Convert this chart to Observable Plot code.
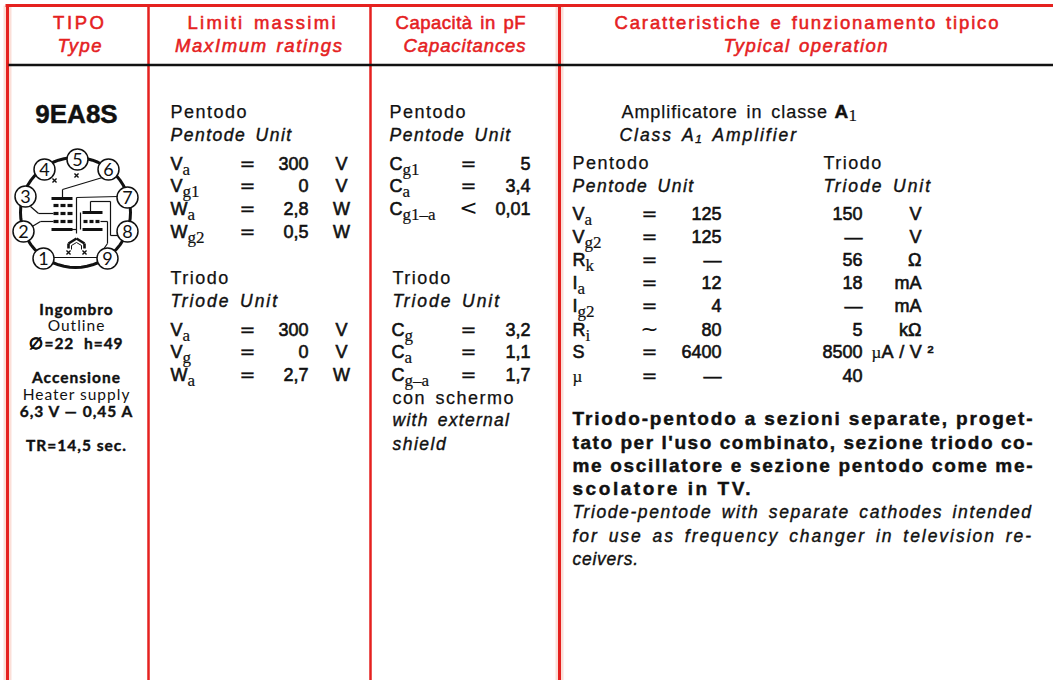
<!DOCTYPE html>
<html><head><meta charset="utf-8">
<script src="https://cdn.jsdelivr.net/npm/d3@7"></script>
<script src="https://cdn.jsdelivr.net/npm/@observablehq/plot@0.6"></script>
<style>
html,body{margin:0;padding:0;background:#fff;overflow:hidden}
svg{display:block}
.head{word-spacing:2px;stroke:#e5211f;stroke-width:.55px}
.reg{letter-spacing:1.5px;word-spacing:3px;stroke:#111;stroke-width:.25px}
.ital{letter-spacing:1.5px;word-spacing:3px;stroke:#111;stroke-width:.4px}
.val{letter-spacing:0;stroke:#111;stroke-width:.6px}
.sub{stroke:#111;stroke-width:.2px}
.symb{stroke:#111;stroke-width:.3px}
.bold{stroke:#111;stroke-width:.45px}
.gill{letter-spacing:1px}
.gillb{letter-spacing:1px;stroke:#111;stroke-width:.4px}
</style></head><body>
<script>
// ---- content ----
const headers = [["TIPO","Type"],["Limiti massimi","MaxImum ratings"],["Capacità in pF","Capacitances"],["Caratteristiche e funzionamento tipico","Typical operation"]];
const typeName = "9EA8S";
const outlineLines = ["Ingombro","Outline","∅=22  h=49"];
const heaterLines = ["Accensione","Heater supply","6,3 V — 0,45 A"];
const trLine = "TR=14,5 sec.";
const limitPentode = [["V","a","=","300","V"],["V","g1","=","0","V"],["W","a","=","2,8","W"],["W","g2","=","0,5","W"]];
const limitTriode  = [["V","a","=","300","V"],["V","g","=","0","V"],["W","a","=","2,7","W"]];
const capPentode   = [["C","g1","=","5"],["C","a","=","3,4"],["C","g1–a","<","0,01"]];
const capTriode    = [["C","g","=","3,2"],["C","a","=","1,1"],["C","g–a","=","1,7"]];
const shieldLines  = ["con schermo","with external","shield"];
const typical = [
 ["V","a","=","125","150","V"],["V","g2","=","125","—","V"],["R","k","=","—","56","Ω"],
 ["I","a","=","12","18","mA"],["I","g2","=","4","—","mA"],["R","i","~","80","5","kΩ"],
 ["S","","=","6400","8500","A/V²"],["µ","","=","—","40",""]];
const boldPara = ["Triodo-pentodo a sezioni separate, proget-","tato per l'uso combinato, sezione triodo co-","me oscillatore e sezione pentodo come me-","scolatore in TV."];
const italPara = ["Triode-pentode with separate cathodes intended","for use as frequency changer in television re-","ceivers."];
const pinNumbers = [1,2,3,4,5,6,7,8,9];

// ---- layout ----
const W=1053,H=680,red="#e5211f",ink="#111";
const sans="Liberation Sans";
const styles={
 head:{fontFamily:sans,fontSize:18.5,fill:red},
 headi:{fontFamily:sans,fontSize:18.5,fontStyle:"italic",fill:red},
 reg:{fontFamily:sans,fontSize:18,fill:ink},
 ital:{fontFamily:sans,fontSize:17.5,fontStyle:"italic",fill:ink},
 val:{fontFamily:sans,fontSize:18,fill:ink},
 bold:{fontFamily:sans,fontSize:19,fontWeight:"bold",fill:ink},
 sub:{fontFamily:"Liberation Serif",fontSize:17,fill:ink},
 big:{fontFamily:sans,fontSize:26,fontWeight:"bold",fill:ink},
 gill:{fontFamily:"Lato",fontSize:15.5,fill:ink},
 gillb:{fontFamily:"Lato",fontSize:15.5,fontWeight:"bold",fill:ink},
 pin:{fontFamily:"Lato",fontSize:18,fill:ink},
 sym:{fontFamily:"DejaVu Sans",fontSize:19,fill:ink},
 symL:{fontFamily:"DejaVu Sans",fontSize:22,fill:ink}
};
const classOf={head:"head",headi:"head",reg:"reg",ital:"ital",val:"val",bold:"bold",sub:"sub",gill:"gill",gillb:"gillb",big:"bold",sym:"symb"};
const pieces=[];
const put=(x,y,t,s="reg",a="start")=>pieces.push({x,y:y-2,t,s,a});
const ctx=document.createElement("canvas").getContext("2d");
const mw=(t)=>{ctx.font="18px 'Liberation Sans'";return ctx.measureText(t).width};
function label(x,y,main,sub){put(x,y,main,"val");if(sub)put(x+mw(main),y+5,sub,"sub");}
const rel=(x,y,e)=>e==="="?put(x,y,e,"sym","middle"):put(x,y,e,"symL","middle");

// headers
const headX=[78,261,460,806], headXi=[79,258,464,805];
headers.forEach(([a,b],i)=>{put(headX[i],30,a,"head","middle");put(headXi[i],53,b,"headi","middle")});
// type column
put(76,124,typeName,"big","middle");
[[316,"gillb"],[332,"gill"],[350,"gillb"]].forEach(([y,s],i)=>put(76,y,outlineLines[i],s,"middle"));
[[384,"gillb"],[401,"gill"],[418,"gillb"]].forEach(([y,s],i)=>put(76,y,heaterLines[i],s,"middle"));
put(76,452,trLine,"gillb","middle");
// limits
put(170,119,"Pentodo");put(170,142,"Pentode Unit","ital");
limitPentode.forEach(([m,s,e,v,u],i)=>{const y=171+i*22.7;label(170,y,m,s);rel(247,y,e);put(308,y,v,"val","end");put(341,y,u,"val","middle")});
put(170,285,"Triodo");put(170,308,"Triode Unit","ital");
limitTriode.forEach(([m,s,e,v,u],i)=>{const y=337+i*22.5;label(170,y,m,s);rel(247,y,e);put(308,y,v,"val","end");put(341,y,u,"val","middle")});
// capacitances
put(389,119,"Pentodo");put(389,142,"Pentode Unit","ital");
capPentode.forEach(([m,s,e,v],i)=>{const y=171+i*22.7;label(389,y,m,s);rel(468,y,e);put(530,y,v,"val","end")});
put(392,285,"Triodo");put(392,308,"Triode Unit","ital");
capTriode.forEach(([m,s,e,v],i)=>{const y=337+i*22.5;label(391,y,m,s);rel(468,y,e);put(530,y,v,"val","end")});
put(392,405,shieldLines[0]);put(392,427,shieldLines[1],"ital");put(392,451,shieldLines[2],"ital");
// typical
put(621,119,"Amplificatore in classe");put(834,119,"A","bold");put(848,122,"1","sub");
put(619,142,"Class A₁ Amplifier","ital");
put(572,170,"Pentodo");put(572,193,"Pentode Unit","ital");
put(823,170,"Triodo");put(823,193,"Triode Unit","ital");
const rowY=[221,244,267,290,313,337,359,383];
typical.forEach(([m,s,e,a,b,u],i)=>{const y=rowY[i];
 if(m==="µ")put(572,y,m,"sub");else label(572,y,m,s);
 rel(649,y,e);put(721,y,a,"val","end");put(862,y,b,"val","end");
 if(u==="A/V²"){put(871,y,"µ","sub");put(881,y,u,"val")}else put(921,y,u,"val","end")});
// paragraphs
[426,450,473,496].forEach((y,i)=>put(572,y,boldPara[i],"bold"));
[519,543,566].forEach((y,i)=>put(572,y,italPara[i],"ital"));

// rules
const rules=[
 {x1:5,y1:5,x2:W,y2:5,c:red,w:3},
 {x1:7,y1:4,x2:7,y2:H,c:red,w:3},
 {x1:148,y1:5,x2:148,y2:H,c:red,w:2.5},
 {x1:370,y1:5,x2:370,y2:H,c:red,w:2.5},
 {x1:559,y1:5,x2:559,y2:H,c:red,w:3},
 {x1:8,y1:64.5,x2:W,y2:64.5,c:ink,w:2.5}
];
const halo=[{x1:559,y1:5,x2:559,y2:H},{x1:7,y1:5,x2:7,y2:H}];

// tube base diagram (drawn in reference pixel units)
const pins=[[43,258],[23,231],[25,196],[44,169],[77,159],[108,169],[127,197],[127,231],[107,258]];
const ring={x:75,y:212,r:55};
const ringArc=d3.range(0,361,6).map(a=>({x:ring.x+ring.r*Math.cos(a*Math.PI/180),y:ring.y+ring.r*Math.sin(a*Math.PI/180)}));
const thin=[[102,177,62,189],[62,189,62,197],[118,196,76,197],[76,197,76,233],
 [30,206,38,213],[38,213,53,213],[30,227,40,221],[40,221,53,221],
 [90,213,90,201],[90,201,110,201],[110,201,110,235],[110,235,119,235],
 [100,221,107,221],[107,221,107,243],[107,243,100,253],[80,212,80,229],
 [52,257,97,257],[71,229,76,229]];
const thick=[[51,198,72,198],[51,229,72,229],[82,212,102,212],[82,229,102,229]];
const heater=[[68,248,68,243],[68,243,76,238],[76,238,84,243],[84,243,84,248]];
const heater2=[[71,249,71,245],[71,245,76,242],[76,242,81,245],[81,245,81,249]];
const gridDash=[];
[205,213,221].forEach(y=>[53,60,67].forEach(x=>gridDash.push([x,y,x+5,y])));
[83,89,95].forEach(x=>gridDash.push([x,221,x+4,221]));
const seg=(a,w,c=ink)=>Plot.link(a,{x1:d=>d[0],y1:d=>d[1],x2:d=>d[2],y2:d=>d[3],stroke:c,strokeWidth:w,strokeLinecap:"butt"});
const xMarks=[[76,175],[54,180],[68,252],[84,252]];

const marks=[
 Plot.link(halo,{x1:"x1",y1:"y1",x2:"x2",y2:"y2",stroke:"#f4a28f",strokeOpacity:.35,strokeWidth:8}),
 Plot.link(rules,{x1:"x1",y1:"y1",x2:"x2",y2:"y2",stroke:"c",strokeWidth:"w"}),
 Plot.line(ringArc,{x:"x",y:"y",stroke:ink,strokeWidth:3}),
 seg(thin,1.2),seg(thick,3),seg(gridDash,3.2),seg(heater,2.6),seg(heater2,1),
 Plot.dot(xMarks,{x:d=>d[0],y:d=>d[1],r:2,symbol:"times",stroke:ink,strokeWidth:1.4}),
 Plot.dot(pins,{x:d=>d[0],y:d=>d[1],r:10.5,fill:"#fff",stroke:ink,strokeWidth:1.5})
];
pins.forEach((p,i)=>put(p[0],p[1]+8,String(pinNumbers[i]),"pin","middle"));
d3.groups(pieces,d=>d.s,d=>d.a).forEach(([s,g])=>g.forEach(([a,rows])=>{
 marks.push(Plot.text(rows,{x:"x",y:"y",text:"t",textAnchor:a,lineAnchor:"bottom",className:classOf[s]||undefined,...styles[s]}));
}));

const svg=Plot.plot({width:W,height:H,margin:0,
 x:{domain:[0,W],range:[0,W],axis:null},y:{domain:[0,H],range:[0,H],axis:null},
 style:{background:"#fff"},marks});
document.body.append(svg);
// fit lines to the widths in the reference
const fit=new Map([[boldPara[0],460],[boldPara[1],460],[boldPara[2],460],[boldPara[3],178],[italPara[0],460],[italPara[1],460],[italPara[2],67],
 [headers[0][0],51],[headers[0][1],44],[headers[1][0],148],[headers[1][1],167],[headers[2][0],130],[headers[2][1],122],
 [headers[3][0],384],[headers[3][1],164],["Amplificatore in classe",207],["Class A₁ Amplifier",178],["with external",118],["Triode Unit",108],["A/V²",52]]);
svg.querySelectorAll("text").forEach(t=>{const w=fit.get(t.textContent);if(w)t.setAttribute("textLength",w)});
</script></body></html>
